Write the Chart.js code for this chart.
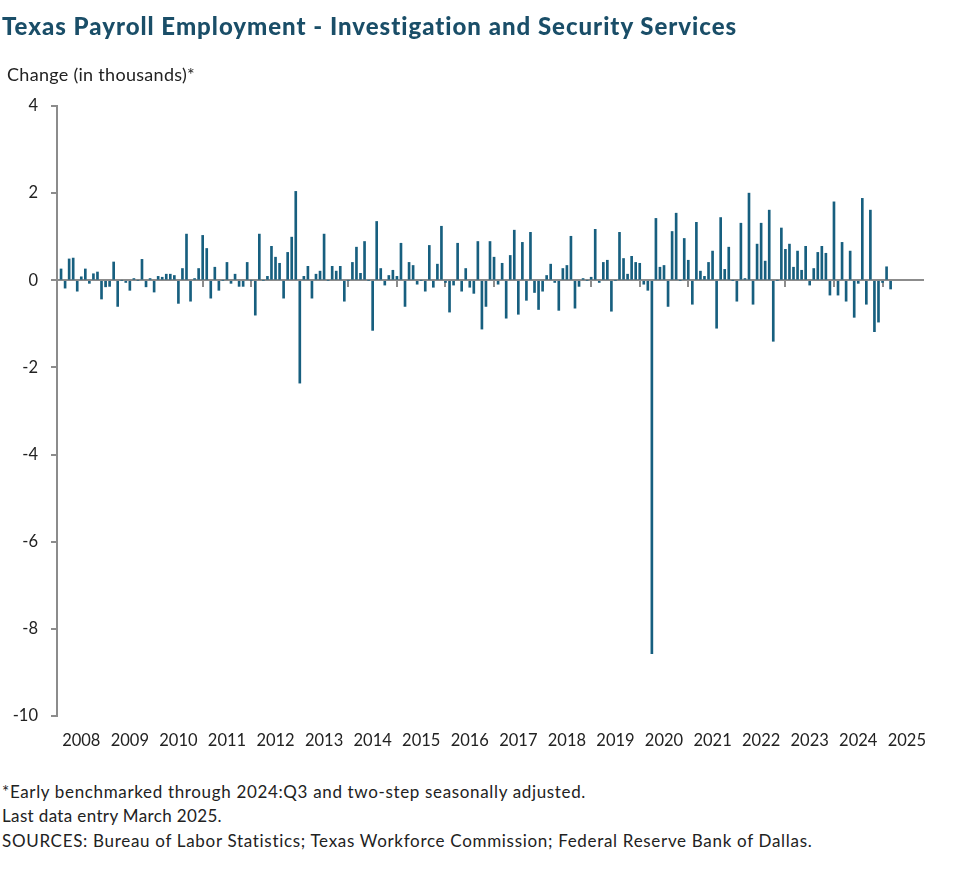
<!DOCTYPE html>
<html>
<head>
<meta charset="utf-8">
<script src="https://cdn.jsdelivr.net/npm/chart.js@4.4.0/dist/chart.umd.min.js"></script>
<style>
  html, body { margin:0; padding:0; background:#fff; }
  body { width:979px; height:878px; position:relative; overflow:hidden; }
  .t { position:absolute; white-space:nowrap; display:inline-block; }
  #title { left:2px; top:14px; font:900 24px/24px Lato, sans-serif; color:#1a4e68; }
  #ylab { left:7px; top:63px; font:400 18px/22px Lato, sans-serif; color:#222; }
  .note { left:2px; font:400 17px/24px Lato, sans-serif; color:#222; }
  #wrap { position:absolute; left:0; top:0; width:979px; height:760px; }
</style>
</head>
<body>
<div id="wrap"><canvas id="c"></canvas></div>
<div id="title" class="t" data-w="736">Texas Payroll Employment - Investigation and Security Services</div>
<div id="ylab" class="t" data-w="188">Change (in thousands)*</div>
<div class="t note" style="top:780px" data-w="584">*Early benchmarked through 2024:Q3 and two-step seasonally adjusted.</div>
<div class="t note" style="top:804px" data-w="220">Last data entry March 2025.</div>
<div class="t note" style="top:829px" data-w="811">SOURCES: Bureau of Labor Statistics; Texas Workforce Commission; Federal Reserve Bank of Dallas.</div>
<script>
// Years shown on the axis
const years = [2008,2009,2010,2011,2012,2013,2014,2015,2016,2017,2018,2019,2020,2021,2022,2023,2024,2025];
const yearLabels = years.map(String);
const months = ['Jan','Feb','Mar','Apr','May','Jun','Jul','Aug','Sep','Oct','Nov','Dec'];
const axisMonthsIn2025 = 11; // axis runs to Nov 2025

// Monthly change, thousands (Jan..Dec)
const v2008 = [null, 0.26, -0.18, 0.49, 0.51, -0.25, 0.08, 0.26, -0.07, 0.15, 0.19, -0.43];
const v2009 = [-0.15, -0.14, 0.42, -0.60, 0.00, -0.05, -0.23, 0.04, 0.00, 0.48, -0.15, 0.04];
const v2010 = [-0.27, 0.09, 0.07, 0.14, 0.14, 0.11, -0.53, 0.27, 1.06, -0.48, 0.04, 0.27];
const v2011 = [1.03, 0.73, -0.41, 0.30, -0.23, 0.00, 0.41, -0.07, 0.14, -0.14, -0.14, 0.41];
const v2012 = [0.00, -0.80, 1.06, 0.00, 0.09, 0.78, 0.53, 0.39, -0.41, 0.64, 0.99, 2.04];
const v2013 = [-2.36, 0.09, 0.32, -0.41, 0.14, 0.21, 1.06, 0.00, 0.32, 0.21, 0.32, -0.48];
const v2014 = [0.00, 0.41, 0.76, 0.16, 0.89, 0.00, -1.15, 1.35, 0.27, -0.11, 0.11, 0.23];
const v2015 = [0.09, 0.85, -0.60, 0.41, 0.34, -0.09, 0.00, -0.25, 0.80, -0.16, 0.37, 1.24];
const v2016 = [-0.05, -0.73, -0.11, 0.85, -0.25, 0.27, -0.16, -0.30, 0.89, -1.12, -0.60, 0.89];
const v2017 = [0.53, -0.09, 0.39, -0.87, 0.57, 1.15, -0.78, 0.87, -0.46, 1.10, -0.28, -0.67];
const v2018 = [-0.25, 0.11, 0.37, -0.05, -0.69, 0.27, 0.34, 1.01, -0.64, -0.14, 0.04, 0.00];
const v2019 = [0.07, 1.17, -0.05, 0.41, 0.46, -0.71, 0.00, 1.10, 0.50, 0.14, 0.55, 0.41];
const v2020 = [0.39, -0.09, -0.23, -8.57, 1.42, 0.30, 0.34, -0.60, 1.12, 1.54, 0.00, 0.96];
const v2021 = [0.46, -0.55, 1.33, 0.21, 0.09, 0.41, 0.67, -1.10, 1.44, 0.25, 0.76, 0.00];
const v2022 = [-0.48, 1.31, 0.04, 2.00, -0.55, 0.83, 1.31, 0.44, 1.61, -1.40, 0.00, 1.20];
const v2023 = [0.71, 0.83, 0.30, 0.67, 0.23, 0.78, -0.11, 0.27, 0.64, 0.78, 0.62, -0.34];
const v2024 = [1.80, -0.34, 0.87, -0.48, 0.67, -0.85, -0.07, 1.88, -0.55, 1.61, -1.18, -0.96];
const v2025 = [-0.05, 0.31, -0.20];

const series = [v2008,v2009,v2010,v2011,v2012,v2013,v2014,v2015,v2016,v2017,v2018,v2019,v2020,v2021,v2022,v2023,v2024,v2025];

const labels = [];
years.forEach((y, i) => {
  const n = (i === years.length - 1) ? axisMonthsIn2025 : 12;
  for (let m = 0; m < n; m++) labels.push(months[m] + ' ' + y);
});
const values = [];
series.forEach(a => a.forEach(v => values.push(v)));
while (values.length < labels.length) values.push(null);

const GRAY = '#8c8c8c';
const TXT = '#222222';
const FONT = { family: 'Lato, sans-serif', size: 16.5 };

new Chart(document.getElementById('c'), {
  type: 'bar',
  data: {
    labels: labels,
    datasets: [{
      data: values,
      backgroundColor: '#175f7f',
      borderWidth: 0,
      barThickness: 2,
      xAxisID: 'x',
      yAxisID: 'y'
    }]
  },
  options: {
    responsive: true,
    maintainAspectRatio: false,
    animation: false,
    layout: { padding: { top: 106, left: 0, right: 56, bottom: 0 } },
    plugins: { legend: { display: false }, tooltip: { enabled: false } },
    scales: {
      x: {
        type: 'category',
        offset: false,
        position: { y: 0 },
        ticks: { display: false, autoSkip: false },
        grid: {
          drawOnChartArea: false,
          offset: false,
          drawTicks: true,
          tickLength: 6,
          lineWidth: 2,
          color: ctx => (ctx.index % 12 === 0 ? GRAY : 'rgba(0,0,0,0)')
        },
        border: { display: true, color: GRAY, width: 2 }
      },
      x2: {
        type: 'category',
        axis: 'x',
        position: 'bottom',
        offset: false,
        grid: { display: false, drawTicks: false },
        border: { display: false },
        ticks: {
          autoSkip: false, maxRotation: 0, minRotation: 0, padding: 15,
          color: TXT, font: FONT,
          callback: (v, i) => (i % 12 === 6 ? yearLabels[Math.floor(i / 12)] : '')
        },
        afterFit: s => { s.height = 44; }
      },
      y: {
        min: -10, max: 4,
        ticks: { stepSize: 2, padding: 13, color: TXT, font: FONT, callback: v => String(v) },
        grid: { drawOnChartArea: false, tickLength: 6, lineWidth: 2, color: GRAY },
        border: { display: true, color: GRAY, width: 2 },
        afterFit: s => { s.width = 57; }
      }
    }
  }
});

function fitAll() {
  document.querySelectorAll('.t[data-w]').forEach(el => {
    el.style.letterSpacing = '0px';
    const w = el.getBoundingClientRect().width;
    const n = el.textContent.length;
    el.style.letterSpacing = ((+el.dataset.w - w) / n) + 'px';
  });
}
fitAll();
if (document.fonts && document.fonts.ready) document.fonts.ready.then(fitAll);
</script>
</body>
</html>
